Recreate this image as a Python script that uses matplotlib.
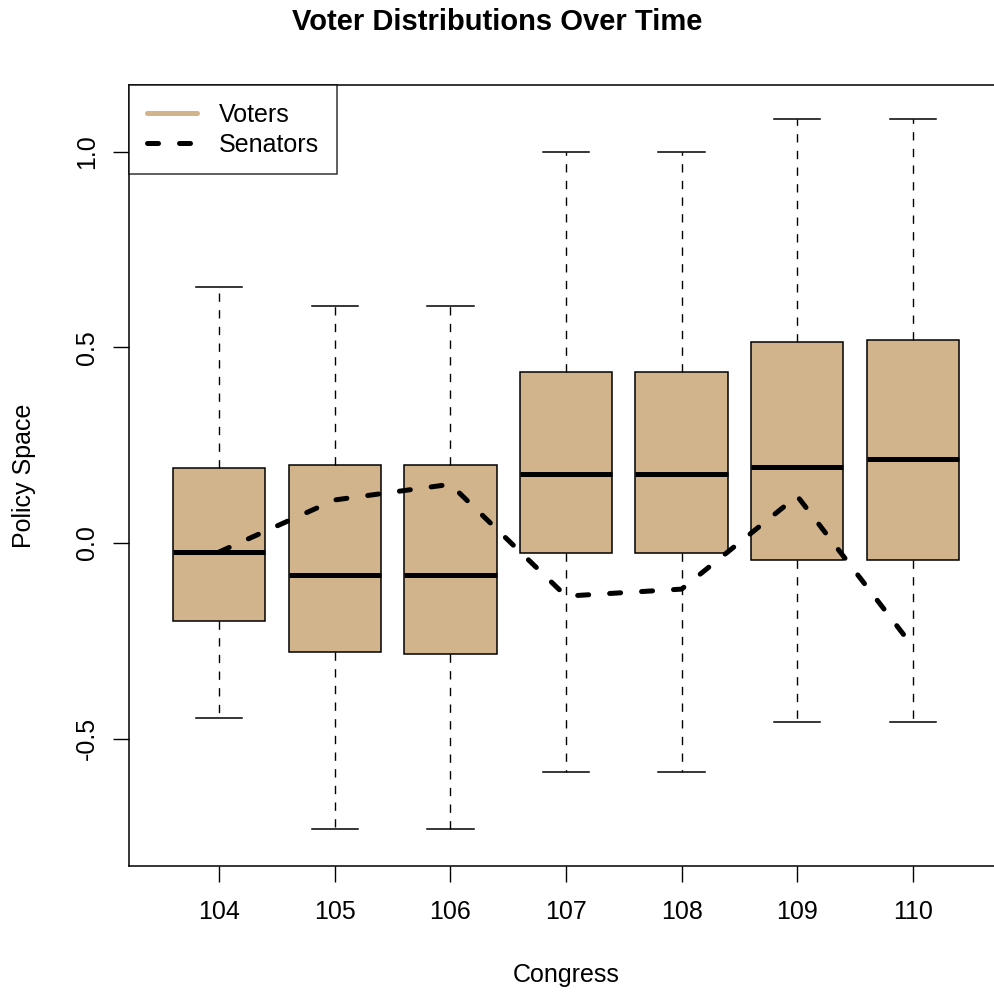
import numpy as np
import matplotlib.pyplot as plt

plt.rcParams['font.family'] = ['Liberation Sans', 'DejaVu Sans']

congress = ['104', '105', '106', '107', '108', '109', '110']

# box statistics (voter distributions)
whisk_lo = [-0.448, -0.731, -0.731, -0.586, -0.586, -0.458, -0.458]
q1 = [-0.199, -0.279, -0.284, -0.026, -0.026, -0.043, -0.043]
med = [-0.023, -0.082, -0.082, 0.176, 0.176, 0.194, 0.215]
q3 = [0.192, 0.200, 0.200, 0.437, 0.437, 0.514, 0.519]
whisk_hi = [0.655, 0.606, 0.606, 1.0, 1.0, 1.084, 1.084]

# senator medians
senators = [-0.023, 0.11, 0.15, -0.136, -0.118, 0.12, -0.265]

tan = '#D2B48C'
dash = (0, (2.2, 4.2))

fig = plt.figure(figsize=(9.95, 9.93), dpi=100)
ax = fig.add_axes([129 / 995, 1 - 866 / 993, (1003 - 129) / 995, (866 - 85) / 993])

stats = []
for i in range(len(congress)):
    stats.append({'med': med[i], 'q1': q1[i], 'q3': q3[i],
                  'whislo': whisk_lo[i], 'whishi': whisk_hi[i], 'fliers': []})

pos = np.arange(1, len(congress) + 1)
ax.bxp(stats, positions=pos, widths=0.8, patch_artist=True,
       boxprops=dict(facecolor=tan, edgecolor='black', linewidth=1.1),
       medianprops=dict(color='black', linewidth=3.6, solid_capstyle='butt'),
       whiskerprops=dict(color='black', linewidth=1.0, linestyle=(0, (6, 6))),
       capprops=dict(color='black', linewidth=1.1),
       capwidths=0.4, showfliers=False)

ax.plot(pos, senators, color='black', linewidth=3.6, linestyle=dash,
        dash_capstyle='round', zorder=5)

ax.set_xlim(0.22, 7.78)
ax.set_ylim(-0.826, 1.171)
ax.set_xticks(pos)
ax.set_xticklabels(congress)
ax.set_yticks([-0.5, 0.0, 0.5, 1.0])
ax.set_yticklabels(['-0.5', '0.0', '0.5', '1.0'], rotation=90, va='center')
ax.tick_params(axis='both', length=11.5, width=1.0, labelsize=18)
ax.tick_params(axis='x', pad=13)
ax.tick_params(axis='y', pad=10)
for sp in ax.spines.values():
    sp.set_linewidth(1.1)

ax.set_xlabel('Congress', fontsize=18, labelpad=28)
ax.set_ylabel('Policy Space', fontsize=18, labelpad=28)
fig.text(0.5, 1 - 22 / 993, 'Voter Distributions Over Time', ha='center', va='center',
         fontsize=21, fontweight='bold')

h1, = ax.plot([], [], color=tan, linewidth=3.6, solid_capstyle='round')
h2, = ax.plot([], [], color='black', linewidth=3.6, linestyle=dash,
              dash_capstyle='round')
leg = ax.legend([h1, h2], ['Voters', 'Senators'], loc='upper left', fontsize=18,
                frameon=True, fancybox=False, borderaxespad=0, handlelength=2.0,
                borderpad=0.7, labelspacing=0.25, handletextpad=0.9)
leg.get_frame().set_edgecolor('black')
leg.get_frame().set_linewidth(1.1)

fig.savefig('out.png', dpi=100)
